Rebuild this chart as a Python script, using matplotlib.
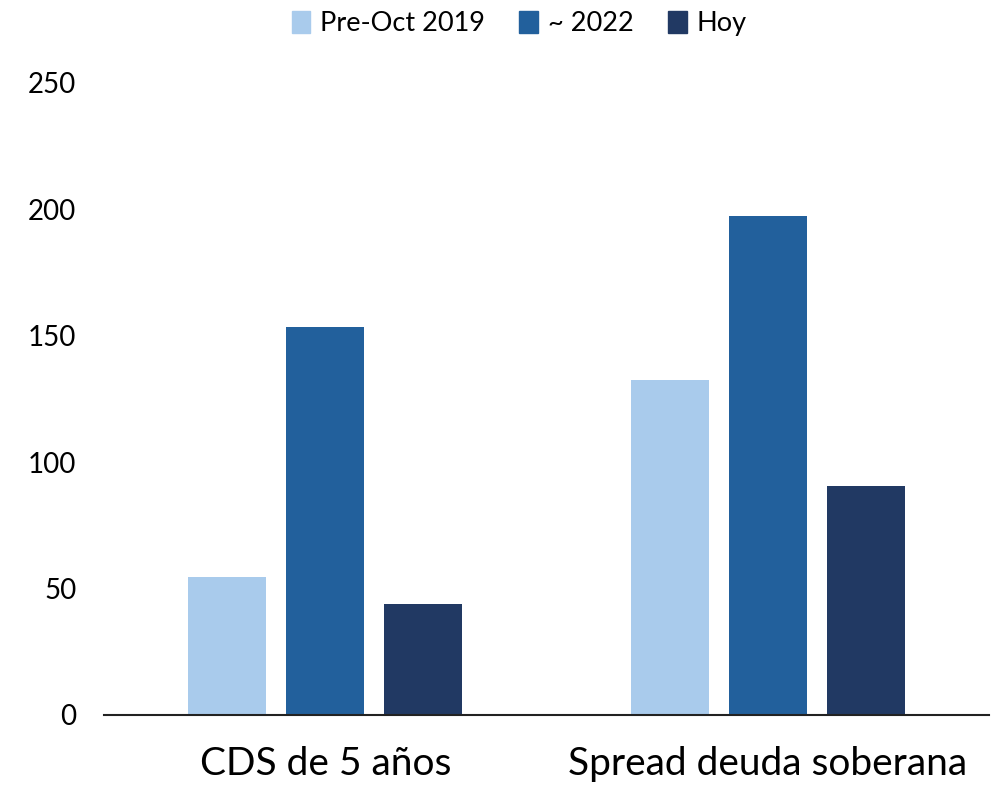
import matplotlib
matplotlib.use("Agg")
import matplotlib.pyplot as plt
import matplotlib.patches as mpatches
import numpy as np

plt.rcParams["font.family"] = ["Lato", "DejaVu Sans"]

CATEGORIES = ["CDS de 5 años", "Spread deuda soberana"]
SERIES = ["Pre-Oct 2019", "~ 2022", "Hoy"]
PRE_2019 = [54.5, 132.5]
AROUND_2022 = [153.5, 197.5]
HOY = [44, 90.5]
YTICKS = [0, 50, 100, 150, 200, 250]

COLORS = ["#A9CBEC", "#22609C", "#213963"]

fig = plt.figure(figsize=(10, 7.91), dpi=100)
ax = fig.add_axes((0.104, 0.0961, 0.885, 0.799))

x = np.arange(len(CATEGORIES))
step, w = 0.2215, 0.176
for i, (vals, col) in enumerate(zip([PRE_2019, AROUND_2022, HOY], COLORS)):
    ax.bar(x + (i - 1) * step, vals, w, color=col, zorder=2)

ax.set_xlim(-0.5, 1.5)
ax.set_ylim(0, 250)
ax.set_yticks(YTICKS)
ax.set_yticklabels([str(t) for t in YTICKS], fontsize=20)
ax.tick_params(axis="y", length=0, pad=20)
ax.set_xticks(x)
ax.set_xticklabels(CATEGORIES, fontsize=28)
ax.tick_params(axis="x", length=0, pad=22)
for s in ("top", "right", "left"):
    ax.spines[s].set_visible(False)
ax.spines["bottom"].set_color("#222222")
ax.spines["bottom"].set_linewidth(1.5)
ax.spines["bottom"].set_zorder(3)

handles = [mpatches.Patch(color=c, label=l) for c, l in zip(COLORS, SERIES)]
fig.legend(handles=handles, loc="center", bbox_to_anchor=(0.519, 0.970), ncol=3,
           frameon=False, fontsize=19.5, handlelength=0.7, handleheight=0.85,
           handletextpad=0.35, columnspacing=1.27)

fig.savefig("out.png", dpi=100)
